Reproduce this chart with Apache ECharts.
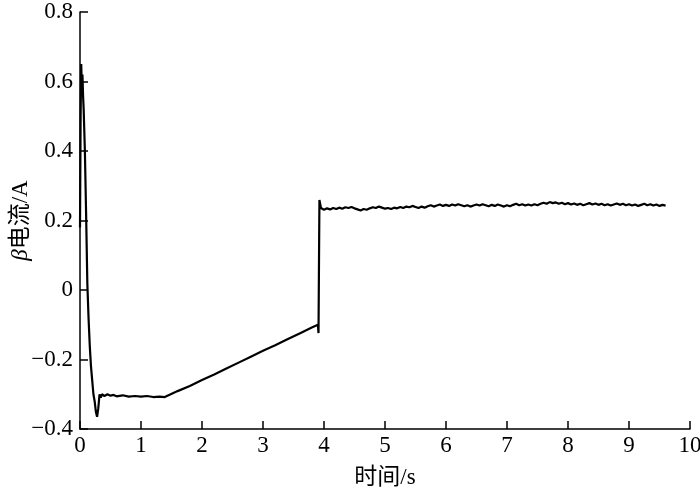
<!DOCTYPE html>
<html>
<head>
<meta charset="utf-8">
<script src="https://cdn.jsdelivr.net/npm/echarts@6/dist/echarts.min.js"></script>
<style>html,body{margin:0;padding:0;background:#fff}#c{width:700px;height:496px}</style>
</head>
<body>
<div id="c"></div>
<script>
// time (s) and current (A) samples
var startTimes = [0.00,0.01,0.02,0.03,0.04,0.05,0.06,0.08,0.10,0.12,0.14,0.16,0.18,0.20,0.22,0.24,0.26,0.28,0.30,0.32,0.34,0.36,0.40,0.45,0.50,0.55,0.60,0.70,0.80,0.90,1.00,1.10,1.20,1.30,1.39];
var startValues = [0.18,0.50,0.65,0.58,0.62,0.56,0.52,0.40,0.22,0.02,-0.08,-0.16,-0.22,-0.26,-0.30,-0.32,-0.35,-0.365,-0.34,-0.30,-0.31,-0.30,-0.305,-0.300,-0.304,-0.302,-0.306,-0.303,-0.307,-0.305,-0.307,-0.305,-0.308,-0.307,-0.308];

var rampTimes = [1.6,1.8,2.0,2.2,2.4,2.6,2.8,3.0,3.2,3.4,3.6,3.8,3.90,3.91,3.925];
var rampValues = [-0.291,-0.276,-0.259,-0.243,-0.226,-0.209,-0.192,-0.175,-0.159,-0.142,-0.125,-0.108,-0.100,-0.124,0.259];

var flatTimes = [3.95,4.00,4.05,4.10,4.15,4.20,4.25,4.30,4.35,4.40,4.45,4.50,4.55,4.60,4.65,4.70,4.75,4.80,4.85,4.90,4.95,
5.00,5.05,5.10,5.15,5.20,5.25,5.30,5.35,5.40,5.45,5.50,5.55,5.60,5.65,5.70,5.75,5.80,5.85,5.90,5.95,
6.00,6.05,6.10,6.15,6.20,6.25,6.30,6.35,6.40,6.45,6.50,6.55,6.60,6.65,6.70,6.75,6.80,6.85,6.90,6.95,
7.00,7.05,7.10,7.15,7.20,7.25,7.30,7.35,7.40,7.45,7.50,7.55,7.60,7.65,7.70,7.75,7.80,7.85,7.90,7.95,
8.00,8.05,8.10,8.15,8.20,8.25,8.30,8.35,8.40,8.45,8.50,8.55,8.60,8.65,8.70,8.75,8.80,8.85,8.90,8.95,
9.00,9.05,9.10,9.15,9.20,9.25,9.30,9.35,9.40,9.45,9.50,9.55,9.60];
var flatValues = [0.236,0.231,0.235,0.232,0.236,0.233,0.237,0.234,0.238,0.236,0.239,0.235,0.232,0.229,0.233,0.231,0.235,0.238,0.236,0.240,0.237,
0.234,0.236,0.233,0.237,0.235,0.239,0.236,0.240,0.238,0.242,0.239,0.236,0.240,0.237,0.241,0.244,0.240,0.243,0.246,0.242,
0.245,0.242,0.246,0.243,0.247,0.244,0.241,0.244,0.240,0.243,0.246,0.243,0.247,0.244,0.241,0.245,0.242,0.246,0.243,0.240,
0.244,0.241,0.245,0.248,0.244,0.247,0.243,0.246,0.243,0.247,0.244,0.248,0.251,0.248,0.253,0.250,0.252,0.248,0.251,0.247,
0.250,0.246,0.249,0.245,0.248,0.244,0.247,0.250,0.246,0.249,0.245,0.248,0.244,0.247,0.243,0.246,0.249,0.245,0.248,0.244,
0.247,0.243,0.246,0.242,0.245,0.248,0.244,0.247,0.243,0.246,0.242,0.245,0.243];

var xTicks = [0,1,2,3,4,5,6,7,8,9,10];
var yTicks = [-0.4,-0.2,0,0.2,0.4,0.6,0.8];

var times = startTimes.concat(rampTimes, flatTimes);
var values = startValues.concat(rampValues, flatValues);
var data = times.map(function (t, i) { return [t, values[i]]; });

var serif = "'Liberation Serif', 'Noto Sans CJK SC', serif";
var chart = echarts.init(document.getElementById('c'), null, {renderer: 'canvas'});
chart.setOption({
  animation: false,
  backgroundColor: '#fff',
  grid: {left: 80, right: 10, top: 12, bottom: 67, containLabel: false, outerBoundsMode: 'none'},
  xAxis: {
    type: 'value', min: 0, max: 10, interval: 1,
    name: '时间/s', nameLocation: 'middle', nameGap: 37, nameMoveOverlap: false,
    nameTextStyle: {fontFamily: serif, fontSize: 23, color: '#000', verticalAlign: 'top'},
    axisLine: {show: true, onZero: false, lineStyle: {color: '#000', width: 1.5}},
    axisTick: {show: true, inside: true, length: 8, lineStyle: {color: '#000', width: 1.5}},
    axisLabel: {fontFamily: serif, fontSize: 23, color: '#000', margin: 5,
      formatter: function (v) { return xTicks.indexOf(v) >= 0 ? String(v) : ''; }},
    splitLine: {show: false}
  },
  yAxis: {
    type: 'value', min: -0.4, max: 0.8, interval: 0.2,
    name: '{i|β}{n|电流/A}', nameLocation: 'middle', nameGap: 48, nameMoveOverlap: false,
    nameTextStyle: {fontFamily: serif, fontSize: 23, color: '#000',
      rich: {
        i: {fontFamily: serif, fontSize: 23, fontStyle: 'italic', color: '#000'},
        n: {fontFamily: serif, fontSize: 23, color: '#000'}
      }},
    axisLine: {show: true, onZero: false, lineStyle: {color: '#000', width: 1.5}},
    axisTick: {show: true, inside: true, length: 8, lineStyle: {color: '#000', width: 1.5}},
    axisLabel: {fontFamily: serif, fontSize: 23, color: '#000', margin: 7,
      formatter: function (v) {
        var r = Math.round(v * 10) / 10;
        var s = r === 0 ? '0' : r.toFixed(1);
        return s.replace('-', '\u2212');
      }},
    splitLine: {show: false}
  },
  series: [{
    type: 'line', data: data, showSymbol: false, symbol: 'none',
    lineStyle: {color: '#000', width: 2.2}, clip: true
  }]
});
</script>
</body>
</html>
